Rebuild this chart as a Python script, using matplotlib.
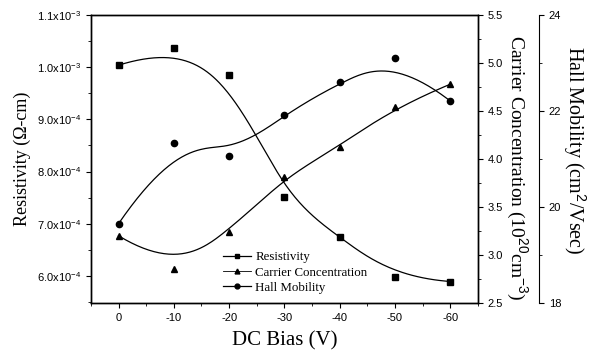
"""
Resistivity, carrier concentration and Hall mobility vs DC bias.
"""

import matplotlib

matplotlib.use("Agg")
import matplotlib.pyplot as plt
import numpy as np
from matplotlib.ticker import FixedLocator, MultipleLocator

# Data
dc_bias = [0, -10, -20, -30, -40, -50, -60]
resistivity = [1.004e-3, 1.037e-3, 0.985e-3, 7.52e-4, 6.74e-4, 5.97e-4, 5.89e-4]
carrier_conc = [3.20, 2.85, 3.24, 3.81, 4.13, 4.54, 4.78]
hall_mobility = [19.65, 21.33, 21.06, 21.92, 22.60, 23.10, 22.21]

res_ticks = [6e-4, 7e-4, 8e-4, 9e-4, 1.0e-3, 1.1e-3]
res_ticklabels = [r"6.0x10$^{-4}$", r"7.0x10$^{-4}$", r"8.0x10$^{-4}$",
                  r"9.0x10$^{-4}$", r"1.0x10$^{-3}$", r"1.1x10$^{-3}$"]


def bspline(px, py, num=200):
    """Clamped cubic B-spline using the points as control points (Origin style)."""
    px = np.asarray(px, float)
    py = np.asarray(py, float)
    n = len(px)
    k = 3
    inner = np.arange(1, n - k)
    knots = np.concatenate([np.zeros(k + 1), inner, np.full(k + 1, n - k)])
    t = np.linspace(0, n - k, num)
    t[-1] -= 1e-9
    # Cox-de Boor
    B = np.zeros((num, len(knots) - 1))
    for i in range(len(knots) - 1):
        B[:, i] = (t >= knots[i]) & (t < knots[i + 1])
    for d in range(1, k + 1):
        Bn = np.zeros((num, len(knots) - 1 - d))
        for i in range(len(knots) - 1 - d):
            a = knots[i + d] - knots[i]
            b = knots[i + d + 1] - knots[i + 1]
            left = (t - knots[i]) / a * B[:, i] if a > 0 else 0
            right = (knots[i + d + 1] - t) / b * B[:, i + 1] if b > 0 else 0
            Bn[:, i] = left + right
        B = Bn
    return B @ px, B @ py


plt.rcParams["font.family"] = ["Liberation Sans", "DejaVu Sans"]
plt.rcParams["mathtext.fontset"] = "custom"
plt.rcParams["mathtext.rm"] = "Liberation Sans"
serif = ["Liberation Serif", "DejaVu Serif"]

fig = plt.figure(figsize=(5.9, 3.61), dpi=100)
ax = fig.add_axes([0.154, 0.161, 0.656, 0.797])
ax2 = ax.twinx()
ax3 = ax.twinx()
ax3.spines["right"].set_position(("axes", 1.158))
for s in ("top", "bottom", "left"):
    ax3.spines[s].set_visible(False)

lw = 0.9
ms = 4.5

# Resistivity
ax.plot(*bspline(dc_bias, resistivity), color="black", lw=lw)
ax.plot(dc_bias, resistivity, "s", color="black", ms=ms)
# Carrier concentration
ax2.plot(*bspline(dc_bias, carrier_conc), color="black", lw=lw)
ax2.plot(dc_bias, carrier_conc, "^", color="black", ms=ms)
# Hall mobility
ax3.plot(*bspline(dc_bias, hall_mobility), color="black", lw=lw)
ax3.plot(dc_bias, hall_mobility, "o", color="black", ms=ms)

# x axis
ax.set_xlim(5, -65)
ax.set_xticks(dc_bias)
ax.set_xticklabels([str(v) for v in dc_bias])
ax.xaxis.set_minor_locator(MultipleLocator(5))
ax.set_xlabel("DC Bias (V)", family=serif, fontsize=15, labelpad=6)

# left axis
ax.set_ylim(5.48e-4, 1.1e-3)
ax.yaxis.set_major_locator(FixedLocator(res_ticks))
ax.set_yticklabels(res_ticklabels)
ax.yaxis.set_minor_locator(FixedLocator(np.arange(5.5e-4, 1.1e-3, 0.5e-4)))
ax.set_ylabel("Resistivity (\u03a9-cm)", family=serif, fontsize=13)

# carrier axis
ax2.set_ylim(2.5, 5.5)
ax2.set_yticks(np.arange(2.5, 5.51, 0.5))
ax2.yaxis.set_minor_locator(MultipleLocator(0.25))
ax.text(1.1, 0.47, r"Carrier Concentration (10$^{20}$cm$^{-3}$)",
        family=serif, fontsize=14, rotation=-90, ha="center", va="center",
        transform=ax.transAxes)

# Hall axis
ax3.set_ylim(18, 24)
ax3.set_yticks([18, 20, 22, 24])
ax3.yaxis.set_minor_locator(MultipleLocator(1))
ax.text(1.25, 0.53, r"Hall Mobility (cm$^2$/Vsec)",
        family=serif, fontsize=14.5, rotation=-90, ha="center", va="center",
        transform=ax.transAxes)

for a in (ax, ax2, ax3):
    a.tick_params(which="major", length=3.5, width=0.8, labelsize=8, direction="out")
    a.tick_params(which="minor", length=2, width=0.6, direction="out")
    for s in a.spines.values():
        s.set_linewidth(1.0)
ax3.spines["right"].set_linewidth(0.8)

# legend
handles = [
    plt.Line2D([], [], color="black", lw=lw, marker="s", ms=3.5),
    plt.Line2D([], [], color="black", lw=0.6, marker="^", ms=3.5),
    plt.Line2D([], [], color="black", lw=lw, marker="o", ms=3.5),
]
ax.legend(handles, ["Resistivity", "Carrier Concentration", "Hall Mobility"],
          loc="lower left", bbox_to_anchor=(0.318, 0.0), frameon=False,
          prop={"family": serif, "size": 9.3}, handlelength=2.2,
          handletextpad=0.3, labelspacing=0.25, borderaxespad=0.3)

fig.savefig("out.png", dpi=100)
